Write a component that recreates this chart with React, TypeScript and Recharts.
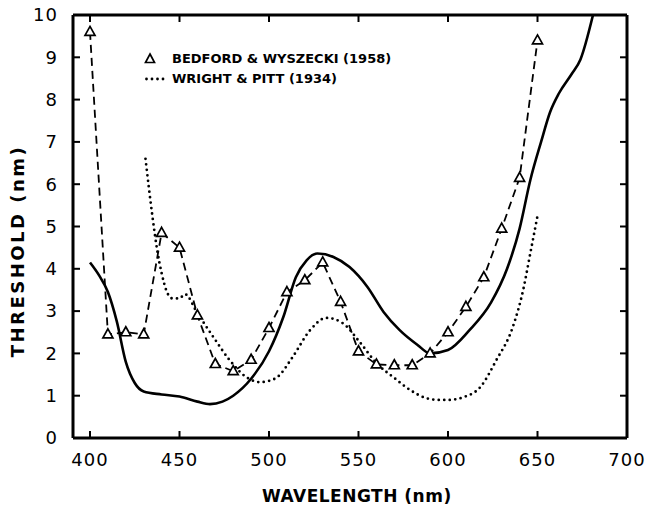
import { LineChart, Line, XAxis, YAxis, ReferenceLine } from 'recharts'

// Bedford & Wyszecki (1958), measured points
const bedfordWl = [400, 410, 420, 430, 440, 450, 460, 470, 480, 490, 500, 510, 520, 530, 540, 550, 560, 570, 580, 590, 600, 610, 620, 630, 640, 650]
const bedfordThr = [9.6, 2.45, 2.5, 2.45, 4.85, 4.5, 2.9, 1.75, 1.58, 1.85, 2.6, 3.45, 3.73, 4.15, 3.22, 2.05, 1.74, 1.72, 1.72, 2.0, 2.5, 3.1, 3.8, 4.95, 6.15, 9.4]

// Wright & Pitt (1934), dotted curve
const wrightWl = [431, 435, 437.5, 440, 443, 446, 450, 453, 460, 469, 478, 488, 495, 500, 505, 513, 523, 532, 541, 551, 560, 570, 579, 588, 595, 600, 609, 618, 627, 636, 642, 646, 650]
const wrightThr = [6.6, 5.2, 4.45, 3.9, 3.45, 3.3, 3.3, 3.4, 2.95, 2.38, 1.84, 1.42, 1.32, 1.35, 1.45, 1.9, 2.55, 2.84, 2.72, 2.25, 1.77, 1.42, 1.13, 0.94, 0.9, 0.9, 0.97, 1.2, 1.84, 2.6, 3.5, 4.37, 5.25]

// solid curve
const solidWl = [400, 405, 410, 415, 420, 425, 430, 440, 450, 460, 467, 474, 480, 490, 500, 508, 515, 521, 527, 536, 545, 555, 564, 573, 583, 590, 600, 612, 624, 633, 640, 646, 652, 657, 662, 669, 674, 681]
const solidThr = [4.15, 3.85, 3.45, 2.75, 1.8, 1.3, 1.1, 1.03, 0.98, 0.86, 0.8, 0.86, 1.0, 1.4, 2.05, 2.86, 3.8, 4.2, 4.36, 4.28, 4.04, 3.57, 2.98, 2.55, 2.2, 2.0, 2.08, 2.55, 3.2, 4.0, 4.95, 6.1, 7.0, 7.7, 8.15, 8.6, 8.95, 10]

const xTicks = [400, 450, 500, 550, 600, 650, 700]
const yTicks = [0, 1, 2, 3, 4, 5, 6, 7, 8, 9, 10]
const X_MIN = 390.5
const X_MAX = 700
const Y_MAX = 10

const zip = (xs: number[], ys: number[]) => xs.map((x, i) => ({ x, y: ys[i] }))

const FONT = "'DejaVu Sans', sans-serif"

const Tri = (props: any) => {
  const { cx, cy } = props
  if (cx == null || cy == null) return <g />
  return (
    <path
      d={`M${cx},${cy - 5.5} L${cx + 5},${cy + 3.5} L${cx - 5},${cy + 3.5} Z`}
      fill="#fff" stroke="#000" strokeWidth={1.7}
    />
  )
}

export default function App() {
  const tickStyle = { fill: '#000', fontSize: 18, fontFamily: FONT, letterSpacing: 1 }
  const axisLine = { stroke: '#000', strokeWidth: 3 }
  const tickLine = { stroke: '#000', strokeWidth: 2 }
  const bedford = zip(bedfordWl, bedfordThr)
  // inward tick length on the top/right frame, ~7px in data units
  const topTick = 0.165
  const rightTick = 3.9
  return (
    <div style={{ position: 'fixed', left: 0, top: 0, width: 650, height: 506, background: '#fff' }}>
      <LineChart width={650} height={506} data={bedford} margin={{ top: 15, right: 23, bottom: 28, left: 13 }}>
        <XAxis
          type="number" dataKey="x" domain={[X_MIN, X_MAX]} ticks={xTicks}
          tick={tickStyle} tickSize={-7} tickMargin={22}
          axisLine={axisLine} tickLine={tickLine} height={40}
        />
        <YAxis
          type="number" domain={[0, Y_MAX]} ticks={yTicks}
          tick={tickStyle} tickSize={-7} tickMargin={22} width={60}
          axisLine={axisLine} tickLine={tickLine}
        />

        {/* top and right sides of the frame */}
        <ReferenceLine y={Y_MAX} stroke="#000" strokeWidth={3} />
        <ReferenceLine x={X_MAX} stroke="#000" strokeWidth={3} />
        {xTicks.slice(0, 6).map(t => (
          <ReferenceLine
            key={`tt${t}`} stroke="#000" strokeWidth={2}
            segment={[{ x: t, y: Y_MAX }, { x: t, y: Y_MAX - topTick }]}
          />
        ))}
        {yTicks.slice(1, 10).map(t => (
          <ReferenceLine
            key={`rt${t}`} stroke="#000" strokeWidth={2}
            segment={[{ x: X_MAX, y: t }, { x: X_MAX - rightTick, y: t }]}
          />
        ))}

        <Line
          data={zip(solidWl, solidThr)} dataKey="y" type="monotone"
          stroke="#000" strokeWidth={2.6} dot={false} isAnimationActive={false}
        />
        <Line
          data={zip(wrightWl, wrightThr)} dataKey="y" type="monotone"
          stroke="#000" strokeWidth={2.8} strokeDasharray="0 5.5" strokeLinecap="round"
          dot={false} isAnimationActive={false}
        />
        <Line
          dataKey="y" type="linear"
          stroke="#000" strokeWidth={1.8} strokeDasharray="8 5"
          dot={<Tri />} isAnimationActive={false}
        />
      </LineChart>

      {/* legend */}
      <div style={{ position: 'absolute', left: 144, top: 49, fontFamily: FONT, fontWeight: 700, fontSize: 13, lineHeight: '20px', whiteSpace: 'nowrap' }}>
        <div style={{ display: 'flex', alignItems: 'center' }}>
          <svg width={28} height={20}>
            <path d="M6,5 L10.5,13.5 L1.5,13.5 Z" fill="#fff" stroke="#000" strokeWidth={1.7} />
          </svg>
          <span>BEDFORD &amp; WYSZECKI (1958)</span>
        </div>
        <div style={{ display: 'flex', alignItems: 'center' }}>
          <svg width={28} height={20}>
            <line x1={-3} y1={10} x2={22} y2={10} stroke="#000" strokeWidth={2.8} strokeDasharray="0 5.5" strokeLinecap="round" />
          </svg>
          <span>WRIGHT &amp; PITT (1934)</span>
        </div>
      </div>

      {/* axis titles */}
      <div style={{ position: 'absolute', left: 262, top: 486, width: 186, textAlign: 'center', fontFamily: FONT, fontWeight: 700, fontSize: 17, letterSpacing: 0.5, whiteSpace: 'nowrap' }}>
        WAVELENGTH (nm)
      </div>
      <div style={{ position: 'absolute', left: 17, top: 251, transform: 'translate(-50%, -50%) rotate(-90deg)', fontFamily: FONT, fontWeight: 700, fontSize: 18, letterSpacing: 2.5, whiteSpace: 'nowrap' }}>
        THRESHOLD (nm)
      </div>
    </div>
  )
}
